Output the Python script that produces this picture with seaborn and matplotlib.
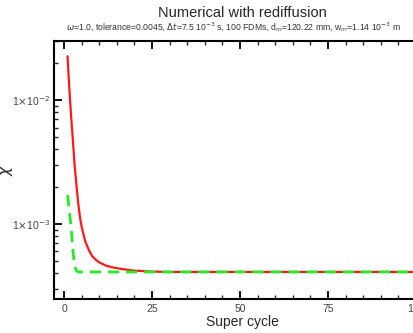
import matplotlib
matplotlib.use("Agg")
import matplotlib.pyplot as plt
import seaborn as sns
import pandas as pd
import numpy as np
from matplotlib.ticker import LogLocator, FixedLocator, MultipleLocator, FuncFormatter

sns.set_theme(style="white")
plt.rcParams['font.family'] = ['Liberation Sans', 'DejaVu Sans']

# Data
red_x = [1, 1.5, 2, 2.5, 3, 3.5, 4, 4.5, 5, 6, 7, 8, 9, 10, 12, 14, 16, 18, 20, 25, 30, 40, 50, 60, 70, 80, 90, 100]
red_y = [2.26e-2, 1.25e-2, 7.5e-3, 4.8e-3, 3.0e-3, 2.1e-3, 1.5e-3, 1.15e-3, 9.5e-4, 7.3e-4,
         6.2e-4, 5.5e-4, 5.15e-4, 4.9e-4, 4.6e-4, 4.45e-4, 4.35e-4, 4.27e-4, 4.2e-4, 4.13e-4,
         4.1e-4, 4.1e-4, 4.1e-4, 4.1e-4, 4.1e-4, 4.1e-4, 4.1e-4, 4.1e-4]
green_x = [1, 1.5, 2, 2.5, 3, 3.5, 4, 5, 10, 20, 30, 40, 50, 60, 70, 80, 90, 100]
green_y = [1.71e-3, 1.3e-3, 9.5e-4, 6.2e-4, 4.6e-4, 4.2e-4, 4.1e-4, 4.1e-4, 4.1e-4, 4.1e-4,
           4.1e-4, 4.1e-4, 4.1e-4, 4.1e-4, 4.1e-4, 4.1e-4, 4.1e-4, 4.1e-4]
x_ticks = [0, 25, 50, 75, 100]

red_df = pd.DataFrame({"cycle": red_x, "chi": red_y})
green_df = pd.DataFrame({"cycle": green_x, "chi": green_y})

fig = plt.figure(figsize=(4.14, 3.33), dpi=100)
ax = fig.add_axes([54/414, 1-299/333, (430-54)/414, (299-41)/333])

sns.lineplot(data=red_df, x="cycle", y="chi", ax=ax, color="#ff1a1a", lw=1.6)
sns.lineplot(data=green_df, x="cycle", y="chi", ax=ax, color="#22ee22", lw=2.0,
             dashes=False, linestyle=(0, (4, 2.5)))

ax.set_yscale("log")
ax.set_xlim(-2.85, 104)
ax.set_ylim(2.48e-4, 3.0e-2)

ax.xaxis.set_major_locator(FixedLocator(x_ticks))
ax.xaxis.set_minor_locator(MultipleLocator(5))
ax.yaxis.set_major_locator(FixedLocator([1e-3, 1e-2]))
ax.yaxis.set_minor_locator(LogLocator(base=10, subs=np.arange(2, 10)))

def fmt(v, pos):
    e = int(round(np.log10(v)))
    return r"1$\times$10$^{%d}$" % e

ax.yaxis.set_major_formatter(FuncFormatter(fmt))
ax.yaxis.set_minor_formatter(FuncFormatter(lambda v, p: ""))

ax.tick_params(axis="both", which="major", direction="in", length=6, width=1.3,
               labelsize=7.5, colors="black", top=True, bottom=True, left=True, right=False)
ax.tick_params(axis="both", which="minor", direction="in", length=3, width=1.0,
               top=True, bottom=True, left=True, right=False)
ax.tick_params(axis="y", which="major", pad=3)
for lbl in ax.get_xticklabels() + ax.get_yticklabels():
    lbl.set_color("#444444")

for s in ["left", "bottom", "top", "right"]:
    ax.spines[s].set_color("black")
    ax.spines[s].set_linewidth(1.5)

ax.set_xlabel("Super cycle", fontsize=10, labelpad=1)
ax.set_ylabel(r"$\chi$", fontsize=11)
ax.yaxis.set_label_coords((15-54)/376, 0.5)
ax.grid(False)

fig.text(242/414, 1-13/333, "Numerical with rediffusion", ha="center", va="center", fontsize=10.5)
fig.text(66/414, 1-27/333,
         r"$\omega$=1.0, tolerance=0.0045, $\Delta t$=7.5 10$^{-3}$ s, 100 FDMs, d$_m$=120.22 mm, w$_m$=1.14 10$^{-3}$ m",
         ha="left", va="center", fontsize=6.2, color="#333333")

fig.savefig("out.png", dpi=100)
